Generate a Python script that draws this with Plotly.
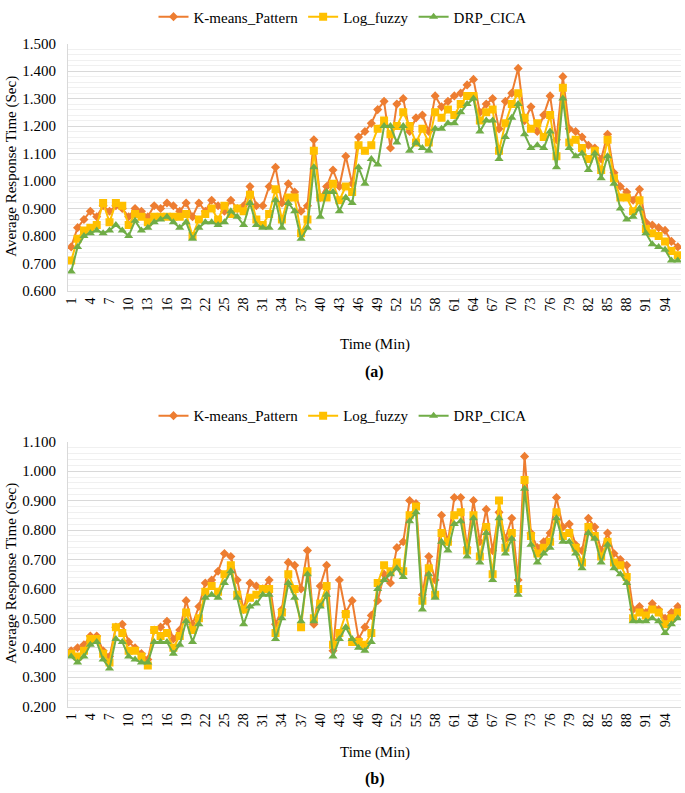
import plotly.graph_objects as go

time_min = list(range(1, 97))
tick_vals = list(range(1, 97, 3))
tick_text = [str(v) for v in tick_vals]
series_names = ["K-means_Pattern", "Log_fuzzy", "DRP_CICA"]

a_kmeans = [0.76, 0.83, 0.86, 0.89, 0.87, 0.91, 0.89, 0.91, 0.90, 0.87, 0.90, 0.89, 0.87, 0.91, 0.90, 0.92, 0.91, 0.89, 0.92, 0.87, 0.92, 0.89, 0.93, 0.91, 0.89, 0.93, 0.90, 0.91, 0.98, 0.91,
            0.91, 0.98, 1.05, 0.92, 0.99, 0.96, 0.89, 0.91, 1.15, 0.94, 0.98, 1.04, 0.98, 1.09, 0.99, 1.16, 1.18, 1.21, 1.26, 1.29, 1.12, 1.28, 1.30, 1.18, 1.23, 1.24, 1.18, 1.31, 1.27, 1.29, 1.31,
            1.32, 1.35, 1.37, 1.25, 1.28, 1.30, 1.19, 1.29, 1.32, 1.41, 1.22, 1.27, 1.18, 1.24, 1.31, 1.15, 1.38, 1.19, 1.18, 1.16, 1.13, 1.12, 1.08, 1.17, 1.03, 0.98, 0.96, 0.93, 0.97, 0.85, 0.84, 0.83, 0.82, 0.78, 0.76]
a_logfuzzy = [0.71, 0.79, 0.82, 0.83, 0.84, 0.92, 0.85, 0.92, 0.91, 0.84, 0.88, 0.87, 0.85, 0.87, 0.87, 0.87, 0.87, 0.87, 0.88, 0.80, 0.86, 0.88, 0.90, 0.86, 0.91, 0.88, 0.90, 0.89, 0.95, 0.86,
              0.84, 0.88, 0.97, 0.86, 0.94, 0.94, 0.81, 0.86, 1.11, 0.94, 0.94, 0.99, 0.93, 0.98, 0.96, 1.13, 1.11, 1.13, 1.19, 1.22, 1.17, 1.20, 1.25, 1.20, 1.14, 1.19, 1.14, 1.25, 1.23, 1.26, 1.24,
              1.28, 1.31, 1.31, 1.22, 1.25, 1.26, 1.11, 1.21, 1.28, 1.32, 1.23, 1.19, 1.21, 1.16, 1.24, 1.09, 1.34, 1.14, 1.15, 1.12, 1.08, 1.11, 1.04, 1.15, 1.01, 0.94, 0.94, 0.89, 0.93, 0.825, 0.81, 0.80, 0.78, 0.745, 0.73]
a_drpcica = [0.67, 0.76, 0.80, 0.81, 0.82, 0.81, 0.82, 0.84, 0.82, 0.80, 0.855, 0.82, 0.83, 0.85, 0.86, 0.87, 0.85, 0.83, 0.85, 0.79, 0.83, 0.85, 0.85, 0.84, 0.85, 0.89, 0.87, 0.84, 0.92, 0.84,
             0.83, 0.83, 0.93, 0.83, 0.92, 0.89, 0.79, 0.83, 1.05, 0.87, 0.96, 0.96, 0.89, 0.94, 0.92, 1.05, 0.99, 1.08, 1.06, 1.20, 1.20, 1.14, 1.20, 1.11, 1.14, 1.12, 1.11, 1.19, 1.19, 1.21, 1.21,
             1.25, 1.28, 1.30, 1.18, 1.22, 1.22, 1.08, 1.16, 1.23, 1.28, 1.17, 1.12, 1.13, 1.12, 1.18, 1.05, 1.30, 1.12, 1.09, 1.10, 1.04, 1.10, 1.01, 1.09, 0.99, 0.90, 0.86, 0.87, 0.90, 0.81, 0.77, 0.76, 0.75, 0.71, 0.71]

b_kmeans = [0.39, 0.40, 0.41, 0.44, 0.44, 0.39, 0.37, 0.47, 0.48, 0.42, 0.40, 0.38, 0.36, 0.46, 0.47, 0.49, 0.43, 0.46, 0.56, 0.48, 0.54, 0.62, 0.63, 0.66, 0.72, 0.71, 0.63, 0.53, 0.62, 0.61,
            0.60, 0.63, 0.48, 0.53, 0.69, 0.68, 0.60, 0.73, 0.48, 0.61, 0.68, 0.39, 0.63, 0.52, 0.56, 0.43, 0.47, 0.51, 0.56, 0.65, 0.62, 0.74, 0.76, 0.90, 0.89, 0.58, 0.71, 0.63, 0.85, 0.76, 0.91,
            0.91, 0.74, 0.90, 0.76, 0.87, 0.73, 0.86, 0.77, 0.84, 0.63, 1.05, 0.79, 0.74, 0.76, 0.79, 0.91, 0.81, 0.82, 0.75, 0.73, 0.84, 0.81, 0.73, 0.79, 0.72, 0.70, 0.68, 0.53, 0.54, 0.52, 0.55, 0.53, 0.50, 0.52, 0.54]
b_logfuzzy = [0.38, 0.37, 0.39, 0.43, 0.43, 0.38, 0.35, 0.47, 0.45, 0.39, 0.39, 0.37, 0.34, 0.46, 0.44, 0.45, 0.40, 0.44, 0.52, 0.46, 0.50, 0.59, 0.61, 0.59, 0.65, 0.68, 0.58, 0.53, 0.57, 0.58,
              0.60, 0.60, 0.45, 0.52, 0.65, 0.60, 0.47, 0.66, 0.50, 0.55, 0.61, 0.41, 0.45, 0.515, 0.42, 0.42, 0.41, 0.45, 0.62, 0.68, 0.66, 0.69, 0.66, 0.85, 0.88, 0.56, 0.67, 0.58, 0.79, 0.76, 0.85,
              0.86, 0.73, 0.85, 0.71, 0.81, 0.65, 0.90, 0.74, 0.79, 0.60, 0.97, 0.78, 0.72, 0.74, 0.76, 0.86, 0.78, 0.79, 0.74, 0.69, 0.81, 0.78, 0.71, 0.76, 0.69, 0.68, 0.64, 0.50, 0.52, 0.51, 0.53, 0.52, 0.48, 0.50, 0.52]
b_drpcica = [0.37, 0.35, 0.37, 0.41, 0.42, 0.36, 0.33, 0.43, 0.42, 0.37, 0.36, 0.35, 0.35, 0.42, 0.42, 0.42, 0.38, 0.41, 0.49, 0.42, 0.48, 0.57, 0.58, 0.57, 0.62, 0.66, 0.57, 0.48, 0.54, 0.55,
             0.58, 0.58, 0.43, 0.50, 0.62, 0.57, 0.49, 0.65, 0.49, 0.54, 0.58, 0.37, 0.43, 0.47, 0.43, 0.40, 0.39, 0.42, 0.60, 0.63, 0.65, 0.67, 0.64, 0.83, 0.86, 0.53, 0.65, 0.57, 0.76, 0.73, 0.82,
             0.83, 0.71, 0.84, 0.69, 0.79, 0.63, 0.84, 0.72, 0.77, 0.58, 0.94, 0.75, 0.69, 0.72, 0.74, 0.84, 0.76, 0.76, 0.72, 0.67, 0.79, 0.77, 0.69, 0.75, 0.67, 0.65, 0.62, 0.49, 0.49, 0.49, 0.50, 0.49, 0.45, 0.48, 0.50]

W, H = 685, 793
FONT = "Liberation Serif"
colors = ["#ED7D31", "#FFC000", "#70AD47"]
symbols = ["diamond", "square", "triangle-up"]
msizes = [7, 8, 8]

def py(px):
    return 1 - px / H

fig = go.Figure()
for panel, (data, xa, ya, leg) in enumerate([
        ((a_kmeans, a_logfuzzy, a_drpcica), "x", "y", "legend"),
        ((b_kmeans, b_logfuzzy, b_drpcica), "x2", "y2", "legend2")]):
    for k in range(3):
        fig.add_trace(go.Scatter(
            x=time_min, y=data[k], name=series_names[k], mode="lines+markers",
            line=dict(color=colors[k], width=2),
            marker=dict(symbol=symbols[k], size=msizes[k], color=colors[k]),
            xaxis=xa, yaxis=ya, legend=leg, showlegend=True))

xdom = [68 / W, 681 / W]
xcommon = dict(range=[0.5, 96.5], tickmode="array", tickvals=tick_vals, ticktext=tick_text,
               tickangle=-90, tickfont=dict(family=FONT, size=14, color="#000"),
               showgrid=False, zeroline=False, showline=True, linecolor="#D9D9D9",
               linewidth=1, ticks="", automargin=False, domain=xdom)
ycommon = dict(dtick=0.1, tickformat=".3f", tickfont=dict(family=FONT, size=15, color="#000"),
               showgrid=True, gridcolor="#D9D9D9", gridwidth=1, zeroline=False,
               showline=True, linecolor="#D9D9D9", ticks="", ticklabelstandoff=8,
               minor=dict(dtick=0.02, showgrid=True, gridcolor="#F0F0F0", gridwidth=1),
               automargin=False)

legcommon = dict(orientation="h", xanchor="center", x=0.5, yanchor="middle",
                 font=dict(family=FONT, size=15, color="#000"), bgcolor="rgba(0,0,0,0)",
                 itemwidth=30, tracegroupgap=0)

fig.update_layout(
    width=W, height=H, margin=dict(l=0, r=0, t=0, b=0),
    font=dict(family=FONT, color="#000"),
    paper_bgcolor="white", plot_bgcolor="white",
    xaxis=dict(**xcommon, anchor="y"),
    yaxis=dict(**ycommon, range=[0.6, 1.5], domain=[py(287), py(38)], anchor="x"),
    xaxis2=dict(**xcommon, anchor="y2"),
    yaxis2=dict(**ycommon, range=[0.2, 1.1], domain=[py(706), py(439)], anchor="x2"),
    legend=dict(**legcommon, y=py(11)),
    legend2=dict(**legcommon, y=py(413)),
)

xc = (xdom[0] + xdom[1]) / 2
ann = [
    ("Time (Min)", xc, py(341), 15, 0),
    ("<b>(a)</b>", xc, py(369), 16, 0),
    ("Time (Min)", xc, py(752), 15, 0),
    ("<b>(b)</b>", xc, py(779), 16, 0),
    ("Average Response Time (Sec)", 12 / W, py(162), 15, -90),
    ("Average Response Time (Sec)", 12 / W, py(572), 15, -90),
]
for text, x, y, size, ang in ann:
    fig.add_annotation(text=text, x=x, y=y, xref="paper", yref="paper",
                       xanchor="center", yanchor="middle", showarrow=False,
                       textangle=ang, font=dict(family=FONT, size=size, color="#000"))

fig.write_html("out.html", config={"displayModeBar": False})
with open("out.html", encoding="utf-8") as f:
    html = f.read()
html = html.replace("<head>", "<head><style>html,body{margin:0;padding:0;overflow:hidden;}</style>", 1)
with open("out.html", "w", encoding="utf-8") as f:
    f.write(html)
